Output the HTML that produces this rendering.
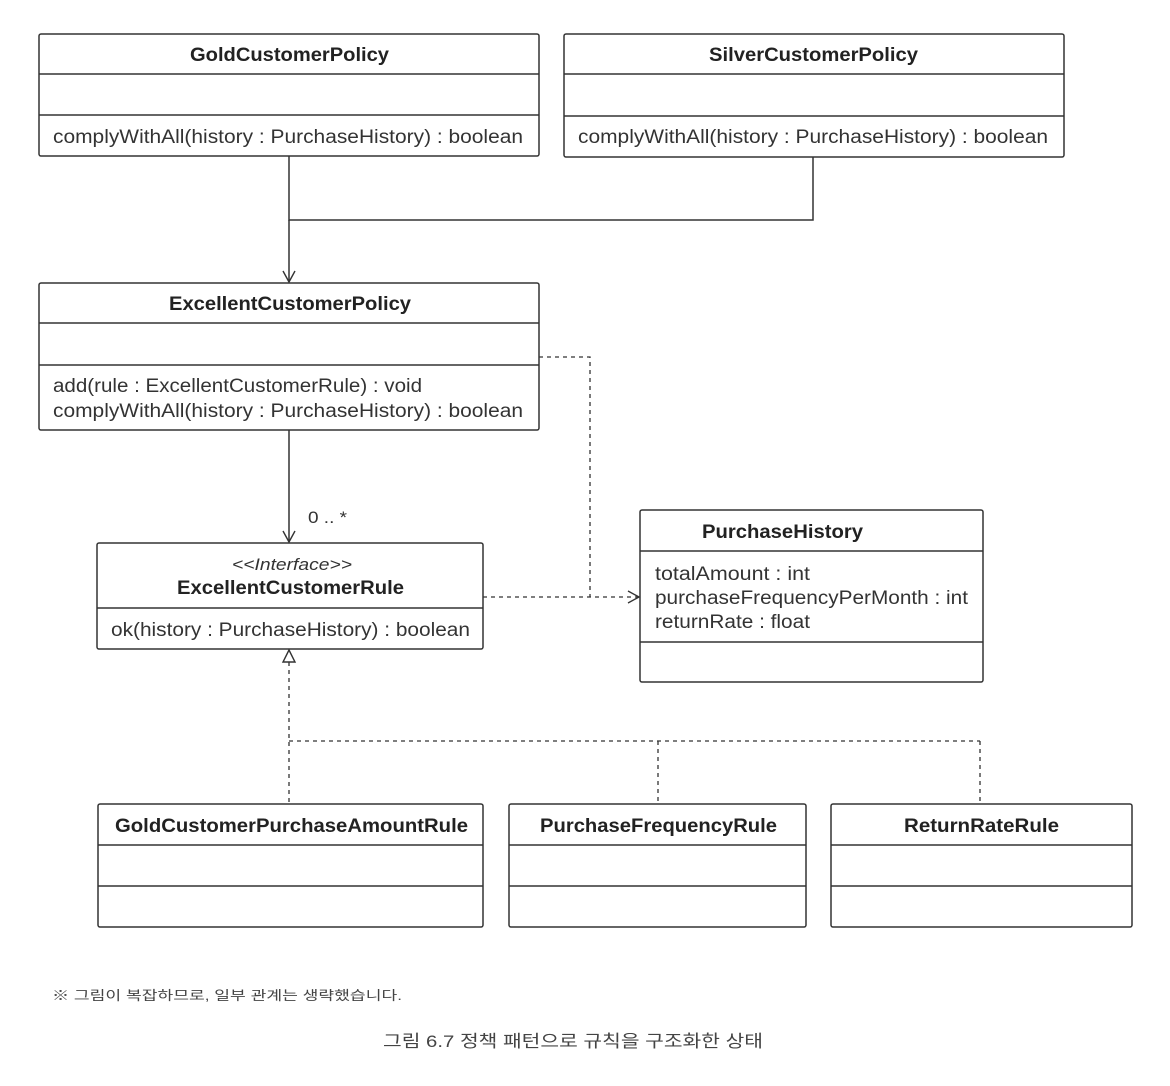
<!DOCTYPE html>
<html><head><meta charset="utf-8"><style>
html,body{margin:0;padding:0;background:#fff;}
svg{display:block;}
text{font-family:"Liberation Sans","Noto Sans CJK KR",sans-serif;fill:#222;}
.t{font-weight:bold;font-size:19px;}
.m{font-size:19px;fill:#333;}
</style></head><body>
<svg width="1170" height="1086" viewBox="0 0 1170 1086" xmlns="http://www.w3.org/2000/svg">
<defs>
<marker id="open" markerWidth="14" markerHeight="14" refX="12" refY="7" orient="auto" markerUnits="userSpaceOnUse">
<path d="M1,1 L12,7 L1,13" fill="none" stroke="#333" stroke-width="1.4"/></marker>
</defs>
<g fill="none" stroke="#333" stroke-width="1.5">
<!-- Gold -->
<rect x="39" y="34" width="500" height="122" rx="2"/><line x1="39" y1="74" x2="539" y2="74"/><line x1="39" y1="115" x2="539" y2="115"/>
<!-- Silver -->
<rect x="564" y="34" width="500" height="123" rx="2"/><line x1="564" y1="74" x2="1064" y2="74"/><line x1="564" y1="116" x2="1064" y2="116"/>
<!-- Excellent Policy -->
<rect x="39" y="283" width="500" height="147" rx="2"/><line x1="39" y1="323" x2="539" y2="323"/><line x1="39" y1="365" x2="539" y2="365"/>
<!-- Rule -->
<rect x="97" y="543" width="386" height="106" rx="2"/><line x1="97" y1="608" x2="483" y2="608"/>
<!-- PurchaseHistory -->
<rect x="640" y="510" width="343" height="172" rx="2"/><line x1="640" y1="551" x2="983" y2="551"/><line x1="640" y1="642" x2="983" y2="642"/>
<!-- bottom boxes -->
<rect x="98" y="804" width="385" height="123" rx="2"/><line x1="98" y1="845" x2="483" y2="845"/><line x1="98" y1="886" x2="483" y2="886"/>
<rect x="509" y="804" width="297" height="123" rx="2"/><line x1="509" y1="845" x2="806" y2="845"/><line x1="509" y1="886" x2="806" y2="886"/>
<rect x="831" y="804" width="301" height="123" rx="2"/><line x1="831" y1="845" x2="1132" y2="845"/><line x1="831" y1="886" x2="1132" y2="886"/>
<!-- connectors -->
<polyline points="289,156 289,220 813,220 813,157"/>
<line x1="289" y1="220" x2="289" y2="282" marker-end="url(#open)"/>
<line x1="289" y1="430" x2="289" y2="542" marker-end="url(#open)"/>
<g stroke-dasharray="4,4" stroke-width="1.3">
<polyline points="539,357 590,357 590,597"/>
<line x1="483" y1="597" x2="639" y2="597" marker-end="url(#open)"/>
<line x1="289" y1="662" x2="289" y2="804"/>
<line x1="289" y1="741" x2="980" y2="741"/>
<line x1="658" y1="741" x2="658" y2="804"/>
<line x1="980" y1="741" x2="980" y2="804"/>
</g>
<path d="M289,650 L283,662 L295,662 Z" fill="#fff" stroke-width="1.4"/>
</g>
<text class="t" x="190" y="61" textLength="199" lengthAdjust="spacingAndGlyphs">GoldCustomerPolicy</text>
<text class="m" x="53" y="143" textLength="470" lengthAdjust="spacingAndGlyphs">complyWithAll(history : PurchaseHistory) : boolean</text>
<text class="t" x="709" y="61" textLength="209" lengthAdjust="spacingAndGlyphs">SilverCustomerPolicy</text>
<text class="m" x="578" y="143" textLength="470" lengthAdjust="spacingAndGlyphs">complyWithAll(history : PurchaseHistory) : boolean</text>
<text class="t" x="169" y="310" textLength="242" lengthAdjust="spacingAndGlyphs">ExcellentCustomerPolicy</text>
<text class="m" x="53" y="392" textLength="369" lengthAdjust="spacingAndGlyphs">add(rule : ExcellentCustomerRule) : void</text>
<text class="m" x="53" y="417" textLength="470" lengthAdjust="spacingAndGlyphs">complyWithAll(history : PurchaseHistory) : boolean</text>
<text class="m" x="308" y="523" textLength="39" lengthAdjust="spacingAndGlyphs" style="font-size:17px">0 .. *</text>
<text class="m" x="232" y="570" textLength="120" lengthAdjust="spacingAndGlyphs" style="font-style:italic;font-size:17px">&lt;&lt;Interface&gt;&gt;</text>
<text class="t" x="177" y="594" textLength="227" lengthAdjust="spacingAndGlyphs">ExcellentCustomerRule</text>
<text class="m" x="111" y="636" textLength="359" lengthAdjust="spacingAndGlyphs">ok(history : PurchaseHistory) : boolean</text>
<text class="t" x="702" y="538" textLength="161" lengthAdjust="spacingAndGlyphs">PurchaseHistory</text>
<text class="m" x="655" y="580" textLength="155" lengthAdjust="spacingAndGlyphs">totalAmount : int</text>
<text class="m" x="655" y="604" textLength="313" lengthAdjust="spacingAndGlyphs">purchaseFrequencyPerMonth : int</text>
<text class="m" x="655" y="628" textLength="155" lengthAdjust="spacingAndGlyphs">returnRate : float</text>
<text class="t" x="115" y="832" textLength="353" lengthAdjust="spacingAndGlyphs">GoldCustomerPurchaseAmountRule</text>
<text class="t" x="540" y="832" textLength="237" lengthAdjust="spacingAndGlyphs">PurchaseFrequencyRule</text>
<text class="t" x="904" y="832" textLength="155" lengthAdjust="spacingAndGlyphs">ReturnRateRule</text>
<text x="52" y="1000" textLength="350" lengthAdjust="spacingAndGlyphs" style="font-size:13px;fill:#444">※ 그림이 복잡하므로, 일부 관계는 생략했습니다.</text>
<text x="383" y="1047" textLength="380" lengthAdjust="spacingAndGlyphs" style="font-size:17px;fill:#444">그림 6.7 정책 패턴으로 규칙을 구조화한 상태</text>
</svg>
</body></html>
